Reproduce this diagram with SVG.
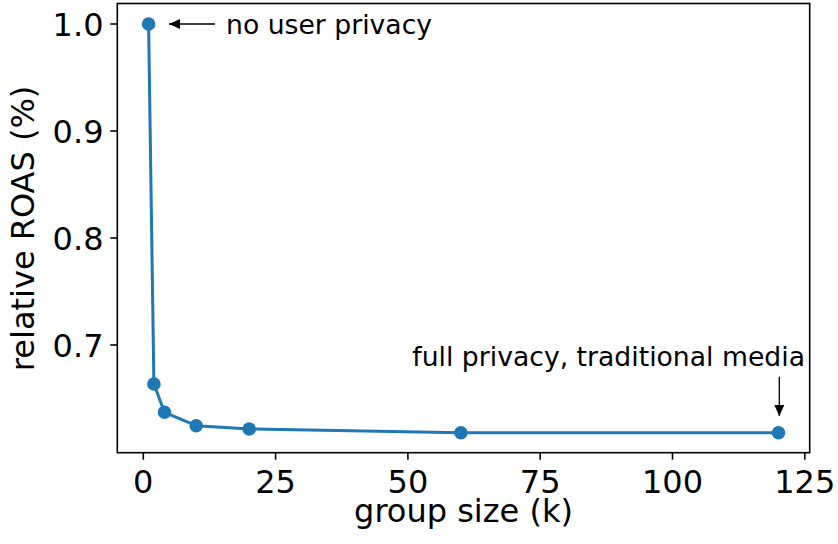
<svg xmlns="http://www.w3.org/2000/svg" width="838" height="544" viewBox="0 0 838 544">
<defs>
<style>
text{font-family:"DejaVu Sans","Liberation Sans",sans-serif;fill:#000}
.tick{font-size:32px}
.lbl{font-size:32px}
.ann{font-size:26.67px}
.tk{stroke:#000;stroke-width:1.6}
.series{fill:none;stroke:#1f77b4;stroke-width:3;stroke-linejoin:round}
.pt{fill:#1f77b4}
.arr{stroke:#000;stroke-width:1.3;fill:none}
</style>
<marker id="ah" viewBox="0 0 11 10" refX="11" refY="5" markerWidth="11" markerHeight="10" markerUnits="userSpaceOnUse" orient="auto">
<path d="M0,0 L11,5 L0,10 Z" fill="#000"/>
</marker>
</defs>
<rect width="838" height="544" fill="#fff"/>
<g id="axes">
<rect x="117.3" y="3.5" width="692.4" height="449.2" fill="none" stroke="#000" stroke-width="1.6"/>
<g id="yticks">
<line class="tk" x1="110.3" y1="24" x2="117.3" y2="24"/>
<line class="tk" x1="110.3" y1="131" x2="117.3" y2="131"/>
<line class="tk" x1="110.3" y1="238" x2="117.3" y2="238"/>
<line class="tk" x1="110.3" y1="345" x2="117.3" y2="345"/>
<text class="tick" x="103.5" y="35.7" text-anchor="end">1.0</text>
<text class="tick" x="103.5" y="142.7" text-anchor="end">0.9</text>
<text class="tick" x="103.5" y="249.7" text-anchor="end">0.8</text>
<text class="tick" x="103.5" y="356.7" text-anchor="end">0.7</text>
</g>
<g id="xticks">
<line class="tk" x1="143.3" y1="452.7" x2="143.3" y2="459.7"/>
<line class="tk" x1="275.6" y1="452.7" x2="275.6" y2="459.7"/>
<line class="tk" x1="407.9" y1="452.7" x2="407.9" y2="459.7"/>
<line class="tk" x1="540.2" y1="452.7" x2="540.2" y2="459.7"/>
<line class="tk" x1="672.5" y1="452.7" x2="672.5" y2="459.7"/>
<line class="tk" x1="804.8" y1="452.7" x2="804.8" y2="459.7"/>
<text class="tick" x="143.3" y="492.7" text-anchor="middle">0</text>
<text class="tick" x="275.6" y="492.7" text-anchor="middle">25</text>
<text class="tick" x="407.9" y="492.7" text-anchor="middle">50</text>
<text class="tick" x="540.2" y="492.7" text-anchor="middle">75</text>
<text class="tick" x="672.5" y="492.7" text-anchor="middle">100</text>
<text class="tick" x="804.8" y="492.7" text-anchor="middle">125</text>
</g>
<text id="xlabel" class="lbl" x="463.5" y="522" text-anchor="middle">group size (k)</text>
<text id="ylabel" class="lbl" transform="translate(34 228.4) rotate(-90)" text-anchor="middle">relative ROAS (%)</text>
</g>
<g id="series">
<polyline class="series" points="148.6,24 153.9,384 164.5,412.3 196.2,425.7 249.2,429 460.9,432.7 778.5,432.7"/>
<circle class="pt" cx="148.6" cy="24" r="6.8"/>
<circle class="pt" cx="153.9" cy="384" r="6.8"/>
<circle class="pt" cx="164.5" cy="412.3" r="6.8"/>
<circle class="pt" cx="196.2" cy="425.7" r="6.8"/>
<circle class="pt" cx="249.2" cy="429" r="6.8"/>
<circle class="pt" cx="460.9" cy="432.7" r="6.8"/>
<circle class="pt" cx="778.5" cy="432.7" r="6.8"/>
</g>
<g id="connectors">
<line class="arr" x1="215" y1="24" x2="169" y2="24" marker-end="url(#ah)"/>
<line class="arr" x1="779.3" y1="376.7" x2="779.3" y2="416" marker-end="url(#ah)"/>
</g>
<g id="annotations">
<text class="ann" x="226" y="33.5">no user privacy</text>
<text class="ann" x="805" y="366" text-anchor="end">full privacy, traditional media</text>
</g>
</svg>
